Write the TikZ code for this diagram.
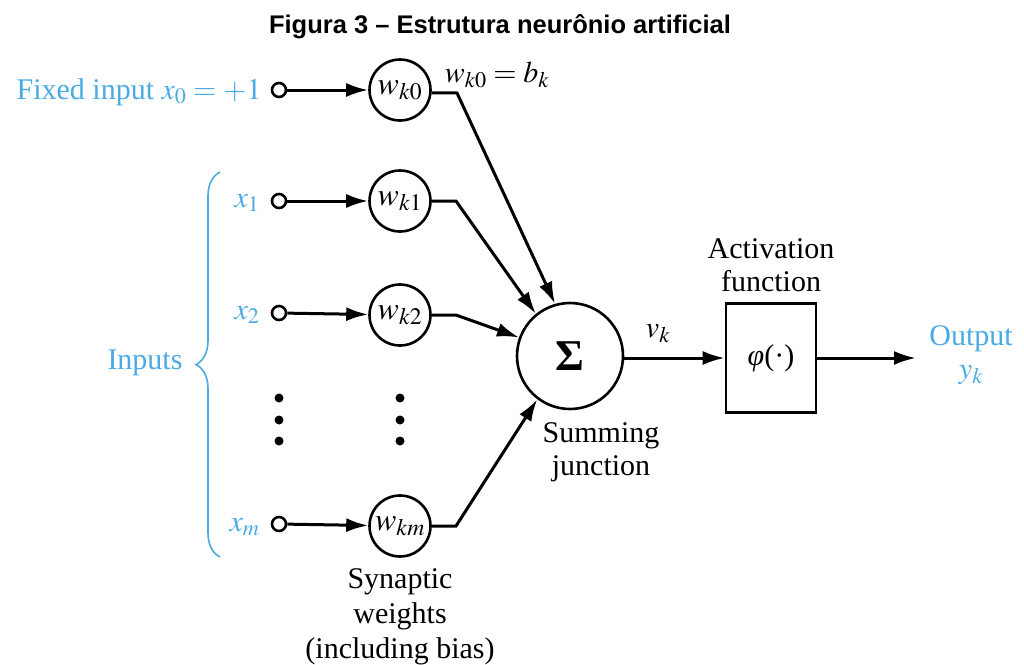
\documentclass[tikz,border=0pt]{standalone}
\usepackage{mathptmx}
\usepackage{fontspec}
\setmainfont{Liberation Serif}
\newfontfamily\titlefont{Liberation Sans}
\usetikzlibrary{arrows.meta,decorations.pathreplacing}
\definecolor{inblue}{RGB}{74,170,228}
\begin{document}
\begin{tikzpicture}[x=1pt,y=-1pt,
  line width=3pt,
  txt/.style={font=\fontsize{30}{33}\selectfont, align=center, inner sep=0pt},
  bluetxt/.style={txt, text=inblue},
  inpt/.style={circle, draw, line width=2.6pt, minimum size=14pt, inner sep=0pt},
  wnode/.style={circle, draw, line width=2.6pt, minimum size=61pt, inner sep=0pt, font=\fontsize{32}{34}\selectfont},
  arr/.style={-{Latex[length=22pt,width=14pt]}},
  dotm/.style={circle, fill, minimum size=9pt, inner sep=0pt}
]
\useasboundingbox (0,0) rectangle (1024,664);

\node[font=\titlefont\bfseries\fontsize{25.5}{28}\selectfont, inner sep=0pt] (title) at (500,27) {Figura 3 – Estrutura neurônio artificial};

% input terminals
\node[inpt] (i0) at (279,90) {};
\node[inpt] (i1) at (279,201) {};
\node[inpt] (i2) at (279,313) {};
\node[inpt] (im) at (279,524) {};

% weights
\node[wnode] (w0) at (400,90) {$w_{k0}$};
\node[wnode] (w1) at (400,201) {$w_{k1}$};
\node[wnode] (w2) at (400,315) {$w_{k2}$};
\node[wnode] (wm) at (400,526) {$w_{km}$};

% labels
\node[bluetxt, anchor=east] (l0) at (263,92) {Fixed input $x_0 = +1$};
\node[bluetxt, anchor=east] (l1) at (261,203) {$x_1$};
\node[bluetxt, anchor=east] (l2) at (261,315) {$x_2$};
\node[bluetxt, anchor=east] (lm) at (261,527) {$x_m$};
\node[txt] (bk) at (497,75) {$w_{k0} = b_k$};

% dots
\node[dotm] (d1) at (279,398) {};
\node[dotm] (d2) at (279,420) {};
\node[dotm] (d3) at (279,441) {};
\node[dotm] (d4) at (400,398) {};
\node[dotm] (d5) at (400,420) {};
\node[dotm] (d6) at (400,441) {};

% summing junction
\node[circle, draw, line width=2.6pt, minimum size=106pt, inner sep=0pt, font=\bfseries\fontsize{44}{46}\selectfont] (s) at (570,356) {Σ};
\node[txt] (sumlbl) at (601,452) {Summing\\junction};

% activation
\node[draw, line width=2.6pt, minimum width=90pt, minimum height=109pt, inner sep=0pt, font=\fontsize{30}{32}\selectfont] (phi) at (771,358) {\textit{φ}(·)};
\node[txt] (actlbl) at (771,265) {Activation\\function};
\node[txt] (vk) at (658,334) {$v_k$};

% output
\coordinate (out) at (916,358);
\node[bluetxt] (outlbl) at (971,355) {Output\\$y_k$};

% synaptic label
\node[txt, font=\fontsize{30}{35}\selectfont] (synlbl) at (400,617) {Synaptic\\weights\\(including bias)};

% inputs brace
\draw[inblue, line width=1.6pt, decorate, decoration={brace, amplitude=24pt}] (220,557) -- (220,172);
\node[bluetxt, anchor=east] (inlbl) at (184,363) {Inputs};

% connectors
\draw[arr] (i0) -- (w0);
\draw[arr] (i1) -- (w1);
\draw[arr] (i2) -- (w2);
\draw[arr] (im) -- (wm);

\draw[arr] (w0.-5) -- (457,93) -- (s.106);
\draw[arr] (w1.east) -- (456,201) -- (s.129);
\draw[arr] (w2.east) -- (456,315) -- (s.160);
\draw[arr] (wm.east) -- (456,526) -- (s.233);

\draw[arr] (s.east |- phi.west) -- (phi.west);
\draw[arr] (phi.east) -- (out);
\end{tikzpicture}
\end{document}
